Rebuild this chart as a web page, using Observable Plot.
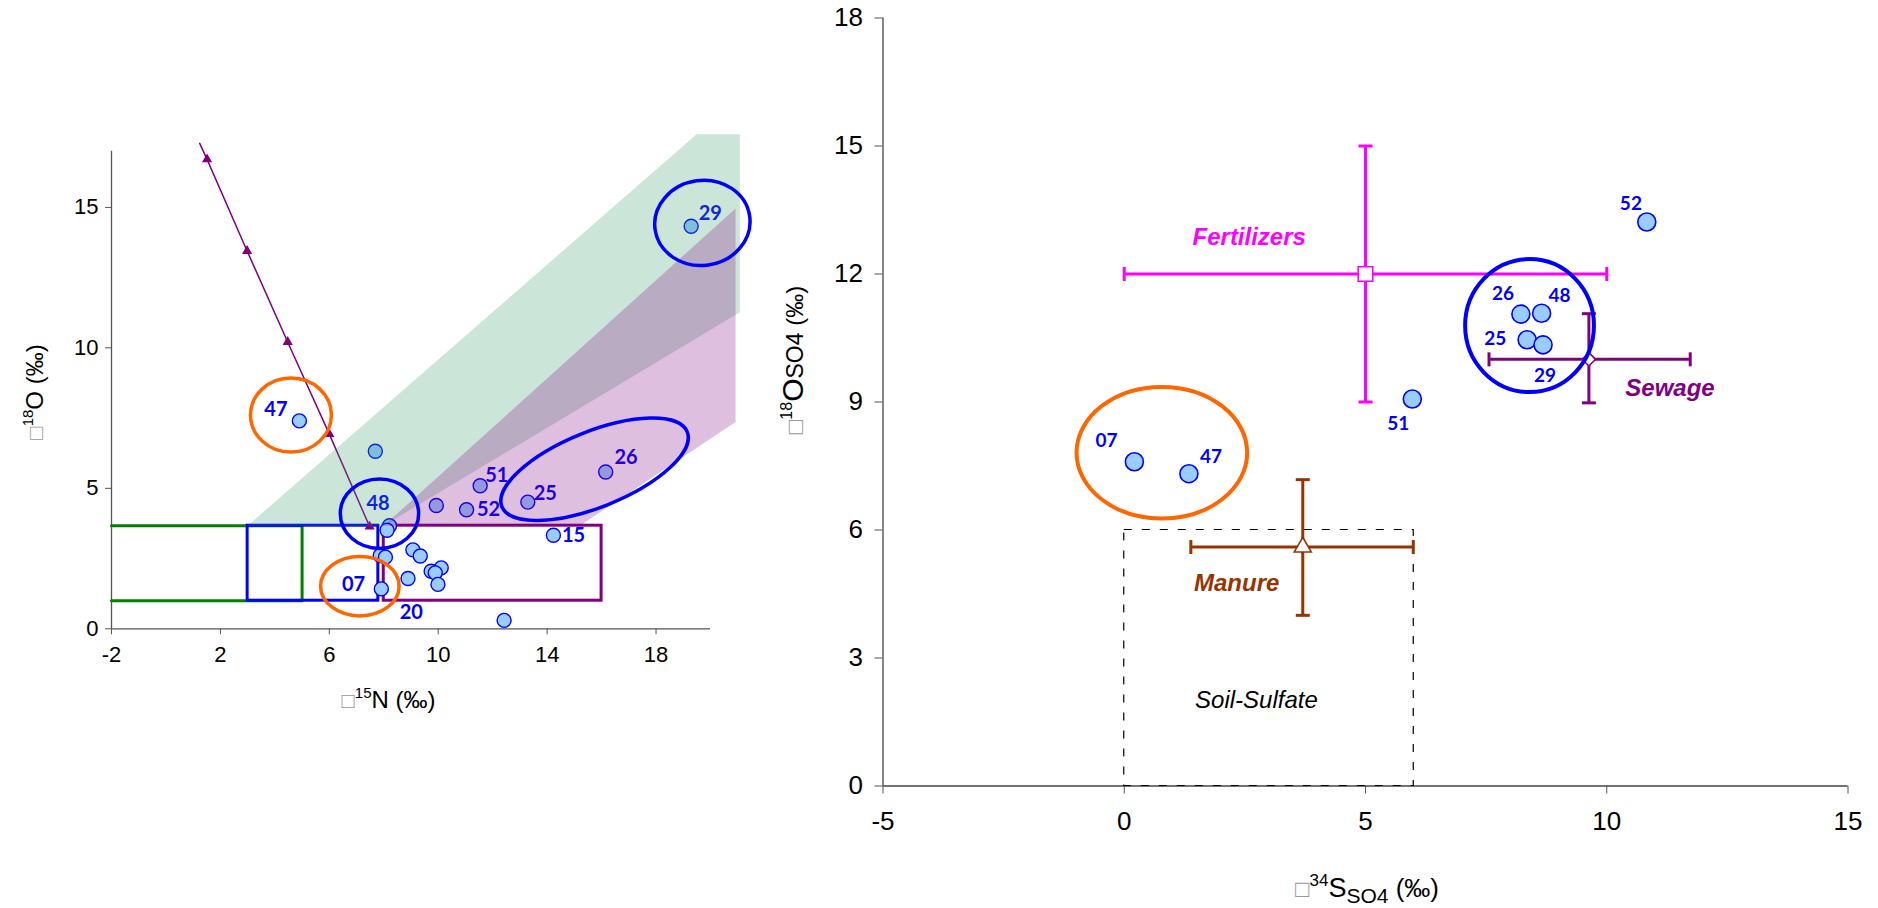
<!DOCTYPE html>
<html>
<head>
<meta charset="utf-8">
<script src="https://cdn.jsdelivr.net/npm/d3@7"></script>
<script src="https://cdn.jsdelivr.net/npm/@observablehq/plot@0.6"></script>
<style>
  html, body { margin: 0; padding: 0; background: #fff; }
  #wrap { position: relative; width: 1878px; height: 908px; overflow: hidden; }
  #wrap svg { position: absolute; top: 0; overflow: visible; }
  #wrap [aria-label^="x-axis"] line, #wrap [aria-label^="x-axis"] path,
  #wrap [aria-label^="y-axis"] line, #wrap [aria-label^="y-axis"] path { stroke: #555; }
  #nitrate [aria-label^="x-axis"] text, #nitrate [aria-label^="y-axis"] text {
    font-size: 22px; font-family: 'Liberation Sans', Arial, sans-serif; fill: #000;
  }
  #sulfate [aria-label^="x-axis"] text, #sulfate [aria-label^="y-axis"] text {
    font-size: 26px; font-family: 'Liberation Sans', Arial, sans-serif; fill: #000;
  }
</style>
</head>
<body>
<div id="wrap"></div>
<script>
// ---------- Nitrate: δ15N vs δ18O (left panel) ----------
const nitrateD15N = [4.90, 7.69, 8.21, 8.12, 9.93, 11.04, 11.54, 13.29, 16.15, 14.23, 7.87, 8.06, 9.07, 9.34, 10.11, 9.74, 9.89, 8.89, 9.99, 7.91, 12.42, 19.29];
const nitrateD18O = [7.40, 6.32, 3.67, 3.51, 4.39, 4.24, 5.09, 4.51, 5.58, 3.33, 2.61, 2.55, 2.81, 2.59, 2.17, 2.05, 1.99, 1.79, 1.58, 1.42, 0.30, 14.33];
const nitrateTags = ["47", "48", "51", "52", "25", "26", "15", "07", "20", "29"];
const nitrateTagD15N = [4.04, 7.79, 12.15, 11.85, 13.93, 16.90, 14.97, 6.89, 9.01, 19.99];
const nitrateTagD18O = [7.80, 4.45, 5.46, 4.24, 4.81, 6.09, 3.32, 1.58, 0.56, 14.78];

// mixing line (first vertex is where the line leaves the frame, the rest carry markers)
const mixingD15N = [1.24, 1.51, 2.98, 4.47, 6.00, 7.48];
const mixingD18O = [17.28, 16.71, 13.45, 10.21, 6.93, 3.64];

// source boxes
const boxGreen = {d15N: [-2, 5], d18O: [1, 3.67]};
const boxBlue = {d15N: [3, 7.8], d18O: [1, 3.67]};
const boxPurple = {d15N: [8, 16], d18O: [1, 3.67]};

// shaded fields
const fieldGreenD15N = [3, 19.49, 21.08, 21.08, 8];
const fieldGreenD18O = [3.67, 17.6, 17.6, 11.27, 3.67];
const fieldPurpleD15N = [8, 20.92, 20.92, 15.2];
const fieldPurpleD18O = [3.67, 14.96, 7.36, 3.67];

// sample groupings (centre, half-widths in axis units, tilt in degrees)
const nitrateGroupsOrange = [
  {cx: 4.61, cy: 7.59, rx: 1.486, ry: 1.318, tilt: 0},
  {cx: 7.14, cy: 1.50, rx: 1.442, ry: 1.058, tilt: 0}
];
const nitrateGroupsBlue = [
  {cx: 7.86, cy: 4.08, rx: 1.439, ry: 1.236, tilt: 0},
  {cx: 15.76, cy: 5.66, rx: 3.670, ry: 1.343, tilt: -22},
  {cx: 19.72, cy: 14.43, rx: 1.754, ry: 1.514, tilt: -8}
];
const nitrateXTicks = [-2, 2, 6, 10, 14, 18];
const nitrateYTicks = [0, 5, 10, 15];

// ---------- Sulfate: δ34S vs δ18O (right panel) ----------
const sulfateTags = ["07", "47", "51", "25", "26", "48", "29", "52"];
const sulfateD34S = [0.21, 1.34, 5.97, 8.35, 8.22, 8.65, 8.68, 10.83];
const sulfateD18O = [7.60, 7.32, 9.07, 10.46, 11.06, 11.08, 10.34, 13.22];
const sulfateTagD34S = [-0.37, 1.80, 5.68, 7.69, 7.85, 9.02, 8.72, 10.50];
const sulfateTagD18O = [8.08, 7.71, 8.49, 10.48, 11.54, 11.48, 9.60, 13.64];

const sourceNames = ["Fertilizers", "Sewage", "Manure"];
const sourceD34S = [5.0, 9.63, 3.70];
const sourceD34SRange = [[0, 10], [7.56, 11.73], [1.38, 5.99]];
const sourceD18O = [12.0, 10.0, 5.60];
const sourceD18ORange = [[9, 15], [8.98, 11.07], [4.0, 7.18]];
const sourceNameD34S = [2.59, 11.31, 2.33];
const sourceNameD18O = [12.85, 9.33, 4.75];

const soilSulfate = {d34S: [0, 6], d18O: [0, 6], tagD34S: 2.74, tagD18O: 2.0};

const sulfateGroupsOrange = [{cx: 0.79, cy: 7.80, rx: 1.768, ry: 1.542, tilt: 0}];
const sulfateGroupsBlue = [{cx: 8.41, cy: 10.78, rx: 1.335, ry: 1.558, tilt: 0}];
const sulfateXTicks = [-5, 0, 5, 10, 15];
const sulfateYTicks = [0, 3, 6, 9, 12, 15, 18];

// ---------- styling ----------
const POINT_FILL = "#99ccff", POINT_STROKE = "#0000ff", TAG_COLOR = "#0000ff";
const ORANGE = "#ff6600", BLUE = "#0000ff";
const sourceColor = {Fertilizers: "#ff00ff", Sewage: "#800080", Manure: "#993300"};
const sourceSymbol = {Fertilizers: "square", Sewage: "diamond2", Manure: "triangle"};
const sourceR = {Fertilizers: 8.2, Sewage: 6.0, Manure: 6.3};
const AXIS_FONT = "'Liberation Sans', Arial, sans-serif";
const TAG_FONT = "Lato, 'Open Sans', sans-serif";
const fmt = d => `${d}`;

// error-bar caps as short line symbols
const capV = {draw(ctx, size) { const r = Math.sqrt(size / Math.PI); ctx.moveTo(0, -r); ctx.lineTo(0, r); }};
const capH = {draw(ctx, size) { const r = Math.sqrt(size / Math.PI); ctx.moveTo(-r, 0); ctx.lineTo(r, 0); }};

// ellipse outlines placed through the plot's own x/y scales
function rings(groups, color, width) {
  return (index, scales) => {
    const g = d3.create("svg:g").attr("fill", "none").attr("stroke", color).attr("stroke-width", width);
    for (const e of groups) {
      const cx = scales.x(e.cx), cy = scales.y(e.cy);
      const rx = Math.abs(scales.x(e.cx + e.rx) - cx);
      const ry = Math.abs(scales.y(e.cy + e.ry) - cy);
      g.append("ellipse").attr("cx", cx).attr("cy", cy).attr("rx", rx).attr("ry", ry)
        .attr("transform", `rotate(${e.tilt} ${cx} ${cy})`);
    }
    return g.node();
  };
}

// axis title with super/subscripts
function title(parts, place) {
  return (index, scales, values, dim) => {
    const {x, y, rotate} = place(dim);
    const t = d3.create("svg:text")
      .attr("text-anchor", "middle")
      .attr("font-family", AXIS_FONT)
      .attr("fill", "#000")
      .attr("transform", `translate(${x},${y}) rotate(${rotate})`);
    for (const p of parts) {
      t.append("tspan").attr("font-size", p.size).attr("dy", p.dy || 0)
        .attr("fill", p.fill || "#000").text(p.text);
    }
    return t.node();
  };
}

// ---------- left panel ----------
const nitrate = nitrateD15N.map((x, i) => ({x, y: nitrateD18O[i]}));
const nitrateTagRows = nitrateTags.map((t, i) => ({t, x: nitrateTagD15N[i], y: nitrateTagD18O[i]}));
const mixing = mixingD15N.map((x, i) => ({x, y: mixingD18O[i]}));
const greenOutline = [
  {x: boxGreen.d15N[0], y: boxGreen.d18O[1]}, {x: boxGreen.d15N[1], y: boxGreen.d18O[1]},
  {x: boxGreen.d15N[1], y: boxGreen.d18O[0]}, {x: boxGreen.d15N[0], y: boxGreen.d18O[0]}
];
const asRect = b => ({x1: b.d15N[0], x2: b.d15N[1], y1: b.d18O[0], y2: b.d18O[1]});
const fieldGreen = fieldGreenD15N.map((x, i) => ({x, y: fieldGreenD18O[i]}));
const fieldPurple = fieldPurpleD15N.map((x, i) => ({x, y: fieldPurpleD18O[i]}));

const left = Plot.plot({
  width: 780, height: 720,
  marginLeft: 111, marginRight: 70, marginTop: 150.7, marginBottom: 91.7,
  x: {domain: [-2, 20], ticks: nitrateXTicks, tickSize: 6, tickPadding: 12, tickFormat: fmt, label: null},
  y: {domain: [0, 17], ticks: nitrateYTicks, tickSize: 6, tickPadding: 7, tickFormat: fmt, label: null},
  style: {fontFamily: AXIS_FONT, fontSize: "22px", color: "#000", background: "none", overflow: "visible"},
  marks: [
    Plot.ruleX([-2], {y1: 0, y2: 17, stroke: "#555", strokeWidth: 1.3}),
    Plot.ruleY([0], {x1: -2, x2: 20, stroke: "#555", strokeWidth: 1.3}),
    Plot.line(greenOutline, {x: "x", y: "y", stroke: "#008000", strokeWidth: 3}),
    Plot.rect([asRect(boxBlue)], {x1: "x1", x2: "x2", y1: "y1", y2: "y2", fill: "none", stroke: "#0000ff", strokeWidth: 3}),
    Plot.rect([asRect(boxPurple)], {x1: "x1", x2: "x2", y1: "y1", y2: "y2", fill: "none", stroke: "#800080", strokeWidth: 3}),
    Plot.line(mixing, {x: "x", y: "y", stroke: "#800080", strokeWidth: 1.5}),
    Plot.dot(mixing.slice(1), {x: "x", y: "y", symbol: "triangle", r: 3.8, fill: "#800080", stroke: "none"}),
    Plot.dot(nitrate, {x: "x", y: "y", r: 7, fill: POINT_FILL, stroke: POINT_STROKE, strokeWidth: 1.4}),
    Plot.text(nitrateTagRows, {x: "x", y: "y", text: "t", fill: TAG_COLOR, fontFamily: TAG_FONT, fontWeight: "bold", fontSize: 20}),
    Plot.line(fieldGreen, {x: "x", y: "y", curve: "linear-closed", fill: "#339966", fillOpacity: 0.25, stroke: "none"}),
    Plot.line(fieldPurple, {x: "x", y: "y", curve: "linear-closed", fill: "#800080", fillOpacity: 0.25, stroke: "none"}),
    rings(nitrateGroupsOrange, ORANGE, 3.5),
    rings(nitrateGroupsBlue, BLUE, 3.5),
    title([
      {text: "□", size: 22, fill: "#999"},
      {text: "18", size: 15, dy: -10},
      {text: "O", size: 24, dy: 10},
      {text: " (‰)", size: 24}
    ], d => ({x: d.marginLeft - 68, y: 392, rotate: -90})),
    title([
      {text: "□", size: 22, fill: "#999"},
      {text: "15", size: 15, dy: -10},
      {text: "N", size: 24, dy: 10},
      {text: " (‰)", size: 24}
    ], d => ({x: 388.5, y: d.height - d.marginBottom + 80, rotate: 0}))
  ]
});
left.id = "nitrate";
left.style.left = "0px";

// ---------- right panel ----------
const sulfate = sulfateD34S.map((x, i) => ({x, y: sulfateD18O[i]}));
const sulfateTagRows = sulfateTags.map((t, i) => ({t, x: sulfateTagD34S[i], y: sulfateTagD18O[i]}));
const sources = sourceNames.map((name, i) => ({
  name, x: sourceD34S[i], y: sourceD18O[i],
  xMin: sourceD34SRange[i][0], xMax: sourceD34SRange[i][1],
  yMin: sourceD18ORange[i][0], yMax: sourceD18ORange[i][1],
  tagX: sourceNameD34S[i], tagY: sourceNameD18O[i]
}));

const sourceMarks = sources.flatMap(s => {
  const c = sourceColor[s.name];
  return [
    Plot.ruleY([s], {y: "y", x1: "xMin", x2: "xMax", stroke: c, strokeWidth: 3}),
    Plot.ruleX([s], {x: "x", y1: "yMin", y2: "yMax", stroke: c, strokeWidth: 3}),
    Plot.dot([s.xMin, s.xMax], {x: d => d, y: () => s.y, symbol: capV, r: 7, fill: "none", stroke: c, strokeWidth: 3}),
    Plot.dot([s.yMin, s.yMax], {x: () => s.x, y: d => d, symbol: capH, r: 7, fill: "none", stroke: c, strokeWidth: 3}),
    Plot.dot([s], {x: "x", y: "y", symbol: sourceSymbol[s.name], r: sourceR[s.name], fill: "white", stroke: c, strokeWidth: 1.6}),
    Plot.text([s], {x: "tagX", y: "tagY", text: "name", fill: c, fontFamily: AXIS_FONT, fontWeight: "bold", fontStyle: "italic", fontSize: 24})
  ];
});

const right = Plot.plot({
  width: 1098, height: 908,
  marginLeft: 102.5, marginRight: 30.5, marginTop: 17.5, marginBottom: 122.5,
  x: {domain: [-5, 15], ticks: sulfateXTicks, tickSize: 8, tickPadding: 18, tickFormat: fmt, label: null},
  y: {domain: [0, 18], ticks: sulfateYTicks, tickSize: 8, tickPadding: 12, tickFormat: fmt, label: null},
  style: {fontFamily: AXIS_FONT, fontSize: "26px", color: "#000", background: "none", overflow: "visible"},
  marks: [
    Plot.ruleX([-5], {y1: 0, y2: 18, stroke: "#444", strokeWidth: 1.3}),
    Plot.ruleY([0], {x1: -5, x2: 15, stroke: "#444", strokeWidth: 1.3}),
    Plot.rect([soilSulfate], {x1: d => d.d34S[0], x2: d => d.d34S[1], y1: d => d.d18O[0], y2: d => d.d18O[1],
      fill: "none", stroke: "#000", strokeWidth: 1.2, strokeDasharray: "8,10"}),
    Plot.text([soilSulfate], {x: "tagD34S", y: "tagD18O", text: () => "Soil-Sulfate", fill: "#000", fontStyle: "italic", fontSize: 24}),
    ...sourceMarks,
    Plot.dot(sulfate, {x: "x", y: "y", r: 9, fill: POINT_FILL, stroke: POINT_STROKE, strokeWidth: 1.6}),
    Plot.text(sulfateTagRows, {x: "x", y: "y", text: "t", fill: TAG_COLOR, fontFamily: TAG_FONT, fontWeight: "bold", fontSize: 19}),
    rings(sulfateGroupsOrange, ORANGE, 4),
    rings(sulfateGroupsBlue, BLUE, 4),
    title([
      {text: "□", size: 24, fill: "#999"},
      {text: "18", size: 16, dy: -11},
      {text: "O", size: 30, dy: 11},
      {text: "SO4", size: 23},
      {text: " (‰)", size: 24}
    ], d => ({x: d.marginLeft - 79.5, y: 360, rotate: -90})),
    title([
      {text: "□", size: 24, fill: "#999"},
      {text: "34", size: 17, dy: -11},
      {text: "S", size: 27, dy: 11},
      {text: "SO4", size: 21, dy: 6},
      {text: " (‰)", size: 26, dy: -6}
    ], d => ({x: (d.marginLeft + d.width - d.marginRight) / 2 + 2, y: d.height - d.marginBottom + 111.5, rotate: 0}))
  ]
});
right.id = "sulfate";
right.style.left = "780px";

document.getElementById("wrap").append(left, right);
</script>
</body>
</html>
